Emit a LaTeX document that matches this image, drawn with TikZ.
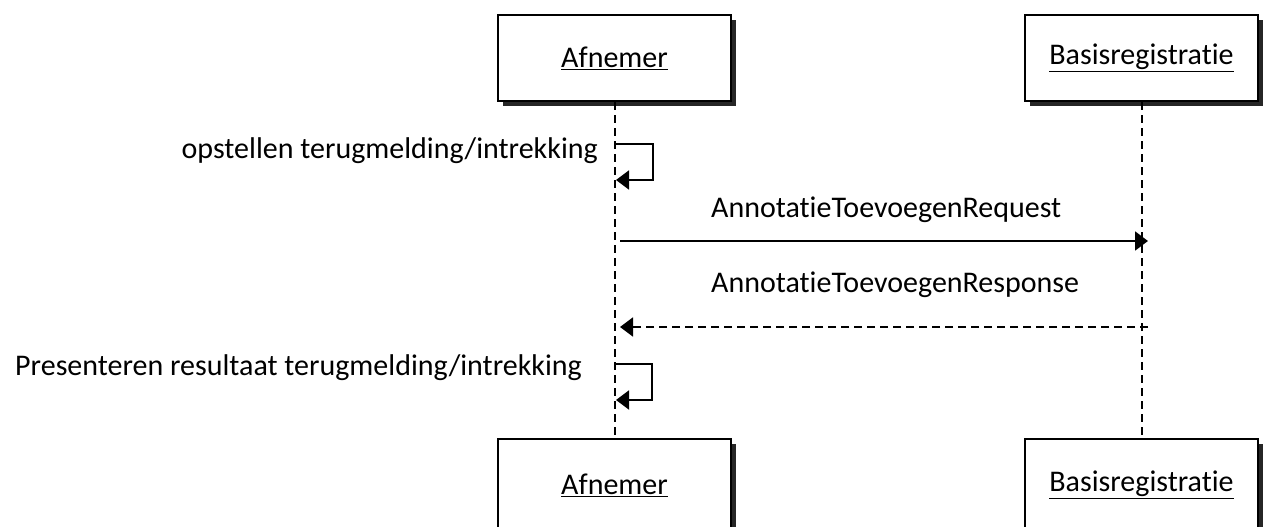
\documentclass[tikz,border=0pt]{standalone}
\usepackage{fontspec}
\setmainfont[Ligatures={NoCommon}]{Carlito}
\usetikzlibrary{arrows.meta,shadows}
\tikzset{
	actor/.style={draw, line width=2pt, fill=white, minimum width=233pt, minimum height=86pt, inner sep=0pt,
		drop shadow={shadow xshift=5pt, shadow yshift=-5pt, fill=black, opacity=0.85}},
	lifeline/.style={line width=2pt, dash pattern=on 8pt off 5pt},
	msg/.style={line width=2pt, -{Triangle[length=13pt,width=19pt]}},
	reply/.style={msg, dash pattern=on 8pt off 5pt},
	lbl/.style={inner sep=0pt, font=\fontsize{30}{35}\selectfont}
}

\begin{document}
\begin{tikzpicture}[x=1pt, y=-1pt]
		%%%%% START %%%%%
		\useasboundingbox (0,0) rectangle (1263,527);
		
		% actors
		\node[actor, lbl] (afTop) at (614.5, 58) {\underline{Afnemer}};
		\node[actor, lbl] (brTop) at (1141.5, 58) {\underline{Basisregistratie}};
		\node[actor, lbl, minimum height=92pt] (afBot) at (614.5, 485) {\underline{Afnemer}};
		\node[actor, lbl, minimum height=92pt] (brBot) at (1141.5, 485) {\underline{Basisregistratie}};
		
		% lifelines
		\draw[lifeline] (afTop.south) -- (afBot.north);
		\draw[lifeline] (brTop.south) -- (brBot.north);
		
		% opstellen
		\coordinate (s1a) at (614, 144);
		\coordinate (s1b) at (616, 180);
		\draw[msg] (s1a) -- (653, 144) -- (653, 180) -- (s1b);
		\node[lbl, anchor=base east] (s1lbl) at (598, 158) {opstellen terugmelding/intrekking};
		
		% request
		\coordinate (rqa) at (620, 241);
		\coordinate (rqb) at (1148, 241);
		\draw[msg] (rqa) -- (rqb);
		\node[lbl, anchor=base west] (rqlbl) at (711, 217) {AnnotatieToevoegenRequest};
		
		% response
		\coordinate (rsa) at (1148, 327);
		\coordinate (rsb) at (620, 327);
		\draw[reply] (rsa) -- (rsb);
		\node[lbl, anchor=base west] (rslbl) at (711, 292) {AnnotatieToevoegenResponse};
		
		% presenteren
		\coordinate (s2a) at (614, 364);
		\coordinate (s2b) at (616, 400);
		\draw[msg] (s2a) -- (652, 364) -- (652, 400) -- (s2b);
		\node[lbl, anchor=base east] (s2lbl) at (582, 375) {Presenteren resultaat terugmelding/intrekking};
		
		%%%%% END %%%%%
	\end{tikzpicture}
\end{document}
